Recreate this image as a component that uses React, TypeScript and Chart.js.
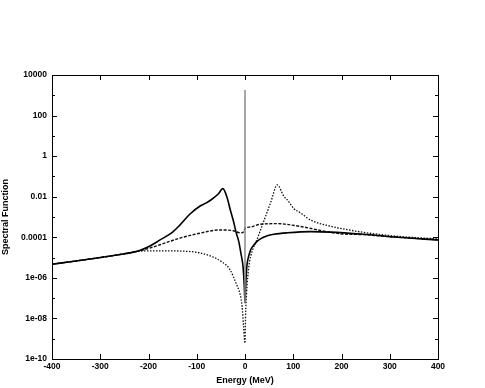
import React, { useEffect, useRef } from "react";
import { Chart, registerables } from "chart.js";

Chart.register(...registerables);

// ---- data ----
const xTicks = [-400, -300, -200, -100, 0, 100, 200, 300, 400];
const yTickValues = [1e-10, 1e-9, 1e-8, 1e-7, 1e-6, 1e-5, 1e-4, 1e-3, 1e-2, 1e-1, 1, 10, 100, 1000, 10000];
const yTickLabels = ["1e-10", "", "1e-08", "", "1e-06", "", "0.0001", "", "0.01", "", "1", "", "100", "", "10000"];

const solidE = [-400, -350, -300, -265, -231, -217, -196, -176, -150, -135, -114, -93, -80, -70, -55, -46, -37, -31, -24, -18, -13, -8, -4, -1.5, 0, 1.5, 4, 8, 12, 18, 25, 32, 45, 60, 88, 136, 177, 246, 316, 400];
const solidV = [4.7e-6, 6.8e-6, 1.0e-5, 1.35e-5, 1.86e-5, 2.3e-5, 3.8e-5, 7.4e-5, 1.8e-4, 4.0e-4, 1.4e-3, 3.5e-3, 5.0e-3, 7.1e-3, 1.4e-2, 2.5e-2, 8.9e-3, 2.5e-3, 6.3e-4, 1.6e-4, 6.3e-5, 1.4e-5, 3.5e-6, 4.0e-7, 5.9e-8, 5.0e-7, 4.0e-6, 1.26e-5, 2.5e-5, 4.1e-5, 6.3e-5, 8.3e-5, 1.15e-4, 1.4e-4, 1.66e-4, 1.9e-4, 1.8e-4, 1.4e-4, 1.0e-4, 7.4e-5];

const dashE = [-400, -350, -300, -265, -231, -217, -196, -176, -135, -93, -52, -24, -13, -6, -2, 0, 11, 32, 66, 115, 160, 198, 246, 316, 400];
const dashV = [4.7e-6, 6.8e-6, 1.0e-5, 1.35e-5, 1.86e-5, 2.2e-5, 3.0e-5, 4.3e-5, 9.1e-5, 1.6e-4, 2.3e-4, 2.1e-4, 1.7e-4, 1.66e-4, 2.0e-4, 2.8e-4, 3.2e-4, 4.4e-4, 4.7e-4, 3.4e-4, 2.1e-4, 1.5e-4, 1.35e-4, 1.0e-4, 7.6e-5];

const dotE = [-400, -350, -300, -265, -231, -217, -196, -176, -135, -93, -72, -52, -31, -18, -10, -6, -3, 0, 1, 3.3, 7.7, 11.6, 25, 39, 53, 67, 81, 88, 102, 115, 136, 177, 198, 246, 316, 400];
const dotV = [4.7e-6, 6.8e-6, 1.0e-5, 1.35e-5, 1.86e-5, 2.1e-5, 2.15e-5, 2.15e-5, 2.1e-5, 1.7e-5, 1.2e-5, 7.1e-6, 2.5e-6, 5.0e-7, 1.5e-7, 3.9e-8, 4.0e-9, 6.0e-10, 1.0e-8, 1.8e-7, 3.2e-6, 1.1e-5, 7.9e-5, 6.3e-4, 5.0e-3, 3.8e-2, 1.0e-2, 6.9e-3, 2.5e-3, 1.6e-3, 7.1e-4, 3.5e-4, 2.75e-4, 1.74e-4, 1.12e-4, 8.3e-5];

const spikeE = [0, 0];
const spikeV = [5.9e-8, 1800];

const pts = (xs: number[], ys: number[]) => xs.map((x, i) => ({ x, y: ys[i] }));

const framePlugin = {
  id: "frameTicks",
  afterDraw(chart: any) {
    const { ctx, chartArea: a, scales } = chart;
    ctx.save();
    ctx.strokeStyle = "#000";
    ctx.lineWidth = 1;
    ctx.strokeRect(a.left + 0.5, a.top + 0.5, a.right - a.left, a.bottom - a.top);
    ctx.beginPath();
    scales.x.ticks.forEach((t: any) => {
      const px = Math.round(scales.x.getPixelForValue(t.value)) + 0.5;
      ctx.moveTo(px, a.bottom);
      ctx.lineTo(px, a.bottom - 5);
      ctx.moveTo(px, a.top);
      ctx.lineTo(px, a.top + 5);
    });
    scales.y.ticks.forEach((t: any, i: number) => {
      const py = Math.round(scales.y.getPixelForValue(t.value)) + 0.5;
      const len = yTickLabels[i] ? 5 : 3;
      ctx.moveTo(a.left, py);
      ctx.lineTo(a.left + len, py);
      ctx.moveTo(a.right, py);
      ctx.lineTo(a.right - len, py);
    });
    ctx.stroke();
    ctx.restore();
  },
};

export default function App() {
  const ref = useRef<HTMLCanvasElement>(null);
  useEffect(() => {
    if (!ref.current) return;
    Chart.defaults.font.family = "'Liberation Sans', Arial, sans-serif";
    Chart.defaults.color = "#000";
    const chart = new Chart(ref.current, {
      type: "line",
      data: {
        datasets: [
          {
            data: pts(spikeE, spikeV),
            borderColor: "#8a8a8a",
            borderWidth: 1.5,
            pointRadius: 0,
          },
          {
            data: pts(solidE, solidV),
            borderColor: "#000",
            borderWidth: 1.6,
            pointRadius: 0,
            cubicInterpolationMode: "monotone",
          },
          {
            data: pts(dashE, dashV),
            borderColor: "#111",
            borderWidth: 1.4,
            borderDash: [3, 1.5],
            pointRadius: 0,
            cubicInterpolationMode: "monotone",
          },
          {
            data: pts(dotE, dotV),
            borderColor: "#111",
            borderWidth: 1.3,
            borderDash: [1.5, 1.5],
            pointRadius: 0,
            cubicInterpolationMode: "monotone",
          },
        ],
      },
      options: {
        responsive: false,
        animation: false,
        layout: { padding: { top: 75, right: 47, left: 0, bottom: 0 } },
        plugins: { legend: { display: false }, tooltip: { enabled: false } },
        scales: {
          x: {
            type: "linear",
            min: -400,
            max: 400,
            afterBuildTicks: (scale: any) => {
              scale.ticks = xTicks.map((v) => ({ value: v }));
            },
            afterFit: (scale: any) => {
              scale.height = 29;
            },
            grid: { display: false, drawTicks: false },
            border: { display: false },
            ticks: {
              font: { size: 8.5, weight: "bold" },
              padding: 3,
              maxRotation: 0,
              autoSkip: false,
            },
            title: {
              display: true,
              text: "Energy (MeV)",
              font: { size: 9, weight: "bold" },
              padding: { top: 0, bottom: 2 },
            },
          },
          y: {
            type: "logarithmic",
            min: 1e-10,
            max: 10000,
            afterBuildTicks: (scale: any) => {
              scale.ticks = yTickValues.map((v) => ({ value: v }));
            },
            afterFit: (scale: any) => {
              scale.width = 52;
            },
            grid: { display: false, drawTicks: false },
            border: { display: false },
            ticks: {
              font: { size: 8.5, weight: "bold" },
              padding: 5,
              autoSkip: false,
              callback: (_v: any, i: number) => yTickLabels[i],
            },
            title: {
              display: true,
              text: "Spectral Function",
              font: { size: 9, weight: "bold" },
              padding: { top: 0, bottom: 0 },
            },
          },
        },
      },
      plugins: [framePlugin],
    });
    return () => chart.destroy();
  }, []);
  return (
    <div style={{ position: "fixed", left: 0, top: 0, width: 485, height: 388, background: "#fff" }}>
      <canvas ref={ref} width={485} height={388} />
    </div>
  );
}
